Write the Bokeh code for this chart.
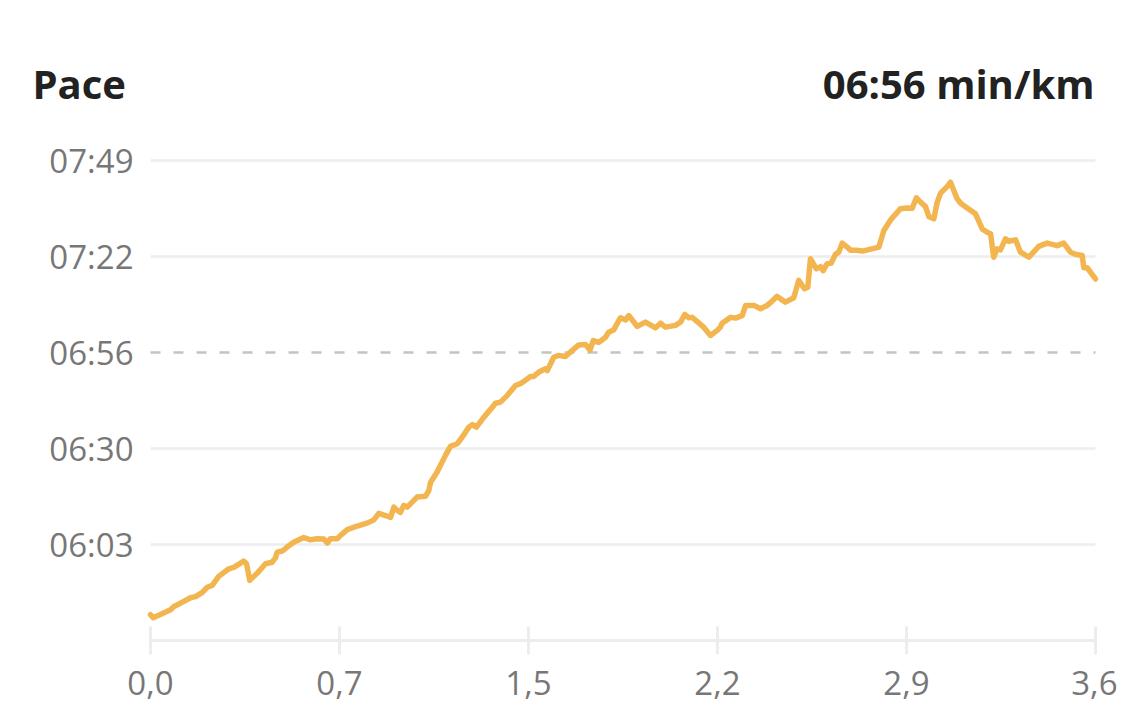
from bokeh.plotting import figure
from bokeh.models import Range1d, FixedTicker, Label, ColumnDataSource
from bokeh.core.properties import value
from bokeh.embed import file_html
from bokeh.resources import INLINE

# ---------------- data ----------------
distance_km = [
    0.000, 0.010, 0.038, 0.077, 0.090, 0.115, 0.154, 0.173, 0.199, 0.218, 0.237, 0.262, 0.301, 0.320, 0.358, 0.369,
    0.381, 0.410, 0.442, 0.467, 0.480, 0.487, 0.506, 0.525, 0.550, 0.589, 0.615, 0.640, 0.666, 0.679, 0.691, 0.717, 0.730,
    0.756, 0.794, 0.832, 0.858, 0.877, 0.903, 0.922, 0.935, 0.948, 0.960, 0.973, 0.986, 1.024, 1.056, 1.069, 1.076,
    1.101, 1.133, 1.152, 1.178, 1.197, 1.223, 1.236, 1.252, 1.280, 1.319, 1.325, 1.344, 1.370, 1.402, 1.421, 1.447, 1.460,
    1.472, 1.492, 1.517, 1.524, 1.549, 1.568, 1.594, 1.613, 1.645, 1.671, 1.688, 1.701, 1.722, 1.748, 1.760, 1.780,
    1.805, 1.825, 1.837, 1.870, 1.901, 1.940, 1.959, 1.978, 2.017, 2.036, 2.052, 2.068, 2.081, 2.125, 2.151, 2.177, 2.189,
    2.196, 2.228, 2.247, 2.273, 2.286, 2.318, 2.343, 2.369, 2.388, 2.407, 2.420, 2.439, 2.471, 2.490, 2.512, 2.525,
    2.535, 2.558, 2.574, 2.584, 2.599, 2.615, 2.631, 2.644, 2.657, 2.676, 2.689, 2.715, 2.734, 2.759, 2.798, 2.817,
    2.843, 2.881, 2.907,
    2.926, 2.942, 2.958, 2.977, 2.990, 3.009, 3.022, 3.035, 3.060, 3.073, 3.099, 3.112, 3.137, 3.169, 3.195, 3.214,
    3.227, 3.239, 3.252, 3.265, 3.284, 3.297, 3.323, 3.342, 3.374, 3.412, 3.444, 3.483, 3.508, 3.534, 3.553, 3.579,
    3.585, 3.598, 3.630,
]

pace_s = [
    343.6, 342.8, 343.7, 345.0, 345.9, 346.8, 348.3, 348.6, 349.8, 351.2, 351.7, 354.2, 356.3, 356.7, 358.4, 357.7,
    353.1, 355.1, 357.7, 358.1, 359.3, 360.9, 361.2, 362.3, 363.6, 364.9, 364.3, 364.6, 364.5, 363.4, 364.6, 364.6, 365.5,
    367.1, 368.1, 368.9, 369.8, 371.6, 371.0, 370.5, 373.3, 372.4, 371.9, 373.8, 373.3, 376.1, 376.3, 377.9, 380.2,
    383.0, 387.6, 390.1, 390.8, 392.6, 395.4, 396.1, 395.4, 398.1, 401.4, 402.0, 402.3, 404.1, 406.9, 407.4, 408.7, 409.4,
    409.4, 410.6, 411.5, 411.0, 414.7, 415.2, 414.9, 416.1, 418.1, 418.2, 416.7, 419.3, 418.8, 420.2, 421.6, 422.3,
    425.6, 425.0, 426.2, 423.2, 424.4, 422.8, 424.1, 423.0, 423.5, 424.4, 426.5, 425.6, 425.7, 423.0, 420.7, 422.1, 423.0,
    424.1, 425.7, 425.5, 426.2, 429.0, 429.0, 428.1, 429.0, 430.2, 431.5, 430.8, 429.9, 431.1, 435.9, 433.6, 434.0,
    441.9, 439.1, 439.7, 438.6, 440.5, 440.7, 443.1, 443.7, 446.2, 445.1, 444.2, 444.2, 444.0, 444.4, 445.1, 449.7,
    452.6, 455.7, 455.9,
    455.8, 458.7, 457.5, 456.3, 453.5, 452.9, 457.5, 460.0, 461.8, 463.0, 458.4, 457.2, 455.9, 454.3, 450.1, 449.2,
    448.8, 442.3, 444.6, 444.3, 447.4, 446.7, 447.1, 443.7, 442.3, 445.3, 446.2, 445.5, 446.2, 443.7, 443.1, 442.8,
    439.4, 439.4, 436.3,
]

total_km = 3.63
avg_pace_s = 416
avg_label = "06:56 min/km"
title_text = "Pace"

x_tick_values = [0.0, 0.726, 1.452, 2.178, 2.904, 3.63]
x_tick_labels = ["0,0", "0,7", "1,5", "2,2", "2,9", "3,6"]
y_tick_values = [363.0, 389.5, 416.0, 442.5, 469.0]
y_tick_labels = ["06:03", "06:30", "06:56", "07:22", "07:49"]

assert len(distance_km) == len(pace_s)

# ---------------- styling ----------------
LINE = "#F2B550"
GRID = "#ededed"
AVG = "#c4c4c4"
LABEL = "#777777"
TITLE = "#222222"
FONT = "Open Sans"

# frame covers the whole canvas above the x axis; everything is mapped by the ranges
p = figure(
    width=1117, height=720,
    output_backend="svg", toolbar_location=None,
    x_range=Range1d(-0.49937, 3.68765), y_range=Range1d(336.5, 507.65),
    min_border_left=20, min_border_right=7, min_border_top=20, min_border_bottom=80,
)
p.outline_line_color = None
p.background_fill_color = "white"
p.border_fill_color = "white"
p.xgrid.visible = False
p.ygrid.visible = False
p.yaxis.visible = False

# horizontal gridlines (not at the average, which is dashed)
grid_vals = [v for v in y_tick_values if v != avg_pace_s]
p.segment(x0=[0.0] * len(grid_vals), x1=[total_km] * len(grid_vals), y0=grid_vals, y1=grid_vals,
          line_color=GRID, line_width=2.5)
# average dashed line
p.segment(x0=[0.0], x1=[total_km], y0=[avg_pace_s], y1=[avg_pace_s],
          line_color=AVG, line_width=2.5, line_dash="10 13")

src = ColumnDataSource(dict(x=distance_km, y=pace_s))
p.line("x", "y", source=src, line_color=LINE, line_width=5.5, line_join="round", line_cap="round")

# y tick labels, right-aligned just left of the plotting area
ylab = ColumnDataSource(dict(x=[-0.0653] * len(y_tick_values), y=y_tick_values, t=y_tick_labels))
p.text("x", "y", text="t", source=ylab, text_align="right", text_baseline="middle",
       text_font=value(FONT), text_font_size="33px", text_color=LABEL)

# x axis
xa = p.xaxis[0]
xa.ticker = FixedTicker(ticks=x_tick_values)
xa.major_label_overrides = {v: l for v, l in zip(x_tick_values, x_tick_labels)}
xa.bounds = (0, total_km)
xa.axis_line_color = GRID
xa.axis_line_width = 3
xa.major_tick_line_color = GRID
xa.major_tick_line_width = 3
xa.major_tick_in = 14
xa.major_tick_out = 14
xa.minor_tick_line_color = None
xa.major_label_text_font = FONT
xa.major_label_text_font_size = "33px"
xa.major_label_text_color = LABEL
xa.major_label_standoff = 16

# titles
p.add_layout(Label(x=-0.45327, y=490.26, text=title_text, text_font=FONT, text_font_size="40px",
                   text_font_style="bold", text_color=TITLE, text_baseline="alphabetic", text_align="left"))
p.add_layout(Label(x=3.62622, y=490.26, text=avg_label, text_font=FONT, text_font_size="40px",
                   text_font_style="bold", text_color=TITLE, text_baseline="alphabetic", text_align="right"))

open("out.html", "w").write(file_html(p, INLINE))
